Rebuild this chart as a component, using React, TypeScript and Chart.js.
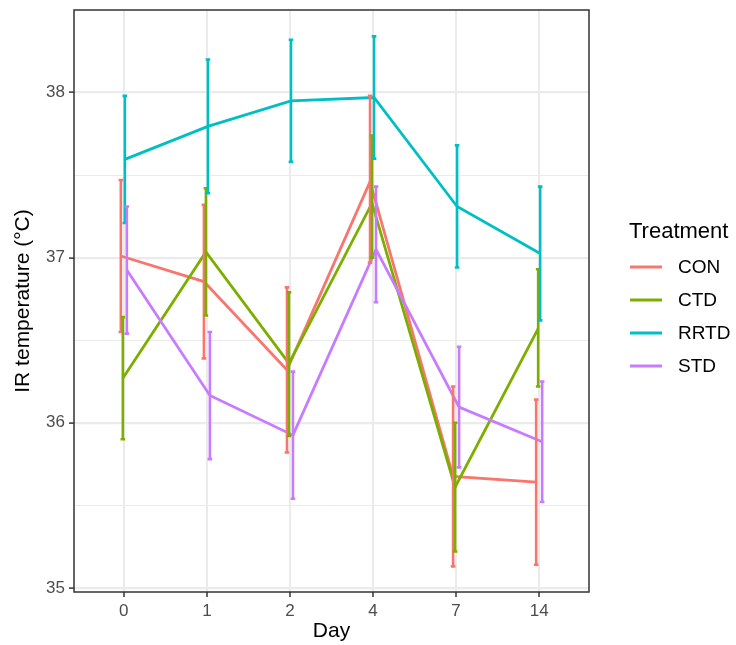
import { useEffect, useRef } from 'react';
import { Chart, registerables } from 'chart.js';

Chart.register(...registerables);

const days = ['0', '1', '2', '4', '7', '14'];
const treatments = ['CON', 'CTD', 'RRTD', 'STD'];
const colors = ['#F8766D', '#7CAE00', '#00BFC4', '#C77CFF'];

const conMean = [37.01, 36.855, 36.32, 37.46, 35.675, 35.64];
const conLow = [36.55, 36.39, 35.82, 36.97, 35.13, 35.14];
const conHigh = [37.47, 37.32, 36.82, 37.98, 36.22, 36.14];

const ctdMean = [36.27, 37.035, 36.36, 37.33, 35.61, 36.57];
const ctdLow = [35.9, 36.65, 35.92, 37.0, 35.22, 36.22];
const ctdHigh = [36.64, 37.42, 36.79, 37.74, 36.0, 36.93];

const rrtdMean = [37.595, 37.795, 37.95, 37.97, 37.31, 37.025];
const rrtdLow = [37.21, 37.39, 37.58, 37.6, 36.94, 36.62];
const rrtdHigh = [37.98, 38.2, 38.32, 38.34, 37.68, 37.43];

const stdMean = [36.925, 36.165, 35.925, 37.05, 36.095, 35.885];
const stdLow = [36.54, 35.78, 35.54, 36.73, 35.73, 35.52];
const stdHigh = [37.31, 36.55, 36.31, 37.43, 36.46, 36.25];

const yTicks = [35, 36, 37, 38];
const yMinor = [35.5, 36.5, 37.5];

const means = [conMean, ctdMean, rrtdMean, stdMean];
const lows = [conLow, ctdLow, rrtdLow, stdLow];
const highs = [conHigh, ctdHigh, rrtdHigh, stdHigh];
const dodge = [-0.036, -0.012, 0.012, 0.036];

const FONT = "'Liberation Sans', Arial, Helvetica, sans-serif";

const errorBarPlugin = {
  id: 'errorBars',
  afterDatasetsDraw(chart: any) {
    const { ctx, scales } = chart;
    const x = scales.x;
    const y = scales.y;
    ctx.save();
    ctx.lineWidth = 2.6;
    ctx.lineCap = 'butt';
    treatments.forEach((_, i) => {
      ctx.strokeStyle = colors[i];
      lows[i].forEach((lo, j) => {
        const px = x.getPixelForValue(j + dodge[i]);
        const y1 = y.getPixelForValue(lo);
        const y2 = y.getPixelForValue(highs[i][j]);
        ctx.beginPath();
        ctx.moveTo(px, y1);
        ctx.lineTo(px, y2);
        ctx.moveTo(px - 2.3, y1);
        ctx.lineTo(px + 2.3, y1);
        ctx.moveTo(px - 2.3, y2);
        ctx.lineTo(px + 2.3, y2);
        ctx.stroke();
      });
    });
    ctx.restore();
  },
};

const framePlugin = {
  id: 'frame',
  afterDraw(chart: any) {
    const { ctx, chartArea } = chart;
    const { left, right, top, bottom } = chartArea;
    ctx.save();
    // panel border
    ctx.strokeStyle = '#333333';
    ctx.lineWidth = 1.5;
    ctx.strokeRect(left, top, right - left, bottom - top);

    // axis titles
    ctx.fillStyle = '#000000';
    ctx.font = `21px ${FONT}`;
    ctx.textAlign = 'center';
    ctx.textBaseline = 'middle';
    ctx.fillText('Day', (left + right) / 2, 631);
    ctx.save();
    ctx.translate(23, (top + bottom) / 2);
    ctx.rotate(-Math.PI / 2);
    ctx.fillText('IR temperature (°C)', 0, 0);
    ctx.restore();

    // legend
    ctx.textAlign = 'left';
    ctx.font = `22px ${FONT}`;
    ctx.fillText('Treatment', 629, 232);
    ctx.font = `19px ${FONT}`;
    treatments.forEach((t, i) => {
      const yy = 267 + i * 33;
      ctx.strokeStyle = colors[i];
      ctx.lineWidth = 3;
      ctx.beginPath();
      ctx.moveTo(630, yy);
      ctx.lineTo(662, yy);
      ctx.stroke();
      ctx.fillStyle = '#000000';
      ctx.fillText(t, 678, yy + 1);
    });
    ctx.restore();
  },
};

export default function App() {
  const ref = useRef<HTMLCanvasElement>(null);

  useEffect(() => {
    if (!ref.current) return;
    const datasets = treatments.map((t, i) => ({
      label: t,
      data: means[i].map((v, j) => ({ x: j + dodge[i], y: v })),
      borderColor: colors[i],
      backgroundColor: colors[i],
      borderWidth: 2.8,
      pointRadius: 0,
      tension: 0,
      fill: false,
      order: treatments.length - 1 - i,
    }));

    const chart = new Chart(ref.current, {
      type: 'line',
      data: { datasets },
      plugins: [errorBarPlugin, framePlugin],
      options: {
        responsive: false,
        animation: false,
        layout: { padding: { top: 10, right: 147, left: 0, bottom: 0 } },
        plugins: {
          legend: { display: false },
          tooltip: { enabled: false },
        },
        scales: {
          x: {
            type: 'linear',
            min: -0.6,
            max: 5.6,
            afterBuildTicks: (s: any) => {
              s.ticks = days.map((_, i) => ({ value: i }));
            },
            afterFit: (s: any) => {
              s.height = 53;
              s.paddingLeft = 0;
              s.paddingRight = 0;
            },
            ticks: {
              callback: (v: any) => days[Math.round(Number(v))] ?? '',
              color: '#4D4D4D',
              font: { family: FONT, size: 17 },
              padding: 4,
              maxRotation: 0,
              autoSkip: false,
            },
            grid: {
              color: '#EBEBEB',
              lineWidth: 2,
              tickColor: '#333333',
              tickLength: 5,
              tickWidth: 1.5,
            },
            border: { display: false },
          },
          y: {
            type: 'linear',
            min: 34.975,
            max: 38.5,
            afterBuildTicks: (s: any) => {
              s.ticks = [...yTicks, ...yMinor].sort((a, b) => a - b).map((v) => ({ value: v }));
            },
            afterFit: (s: any) => {
              s.width = 74;
              s.paddingTop = 0;
              s.paddingBottom = 0;
            },
            ticks: {
              callback: (v: any) => (yTicks.includes(Number(v)) ? String(v) : ''),
              color: '#4D4D4D',
              font: { family: FONT, size: 17 },
              padding: 4,
              autoSkip: false,
            },
            grid: {
              color: '#EBEBEB',
              lineWidth: (c: any) => (c.tick && yTicks.includes(c.tick.value) ? 2.2 : 1),
              tickColor: (c: any) => (c.tick && yTicks.includes(c.tick.value) ? '#333333' : 'rgba(0,0,0,0)'),
              tickLength: 5,
              tickWidth: 1.5,
            },
            border: { display: false },
          },
        },
      },
    });
    return () => chart.destroy();
  }, []);

  return (
    <div style={{ position: 'fixed', left: 0, top: 0, width: 736, height: 645, background: '#fff' }}>
      <canvas ref={ref} width={736} height={645} style={{ width: 736, height: 645, display: 'block' }} />
    </div>
  );
}
